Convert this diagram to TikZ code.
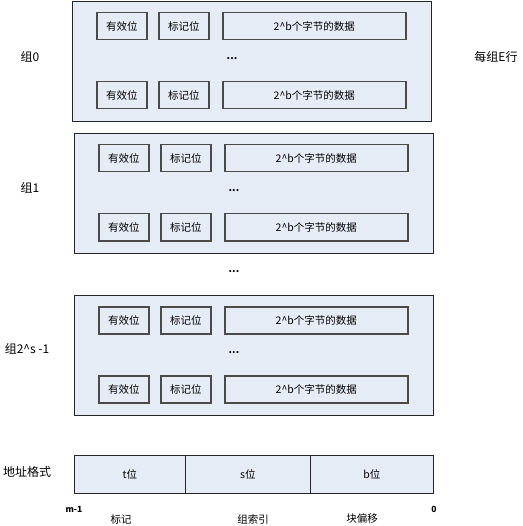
\documentclass[tikz,border=0pt]{standalone}
\usepackage{fontspec}
\setmainfont{Noto Sans CJK SC}
\usetikzlibrary{positioning}

\definecolor{cellfill}{HTML}{E6ECF5}
\definecolor{cellline}{HTML}{4A4A4A}

\tikzset{
  groupbox/.style={draw=black!85, line width=1.1pt, fill=cellfill,
    minimum width=359pt, minimum height=120pt, anchor=north west, inner sep=0pt},
  bitbox/.style={draw=cellline, line width=1.5pt, fill=cellfill,
    minimum width=50pt, minimum height=27pt, anchor=north west, inner sep=0pt},
  databox/.style={bitbox, minimum width=183pt},
  addrbox/.style={draw=black!85, line width=0.9pt, fill=cellfill,
    minimum height=38pt, anchor=north west, inner sep=0pt},
  moredots/.style={font=\bfseries\fontsize{10}{10}\selectfont},
  sidelab/.style={font=\fontsize{12}{14}\selectfont},
}

\begin{document}
\begin{tikzpicture}[x=1pt,y=-1pt,font=\fontsize{10.5}{12}\selectfont]

\useasboundingbox (0,0) rectangle (522,526);

% Groups
\foreach \g/\gx/\gy/\lx/\ly/\glab in {0/72/1/30/57/组0, 1/74/133/30/188/组1,
    2/74/295/27/349/{组2\textasciicircum s -1}} {
  \node[groupbox] (g\g) at (\gx,\gy) {};
  \node[sidelab] (g\g lab) at (\lx,\ly) {\glab};
  % two lines of the group
  \foreach \r/\dy in {a/11, b/80} {
    \node[bitbox] (g\g v\r) at (\gx+24,\gy+\dy) {有效位};
    \node[bitbox] (g\g t\r) at (\gx+86,\gy+\dy) {标记位};
    \node[databox] (g\g d\r) at (\gx+150,\gy+\dy) {2\textasciicircum b个字节的数据};
  }
  \node[moredots] (g\g dots) at (\gx+160,\gy+58) {...};
}

\node[sidelab] (lines) at (496,57) {每组E行};

% Groups left out
\node[moredots] (gdots) at (234,272) {...};

% Address format
\node[sidelab] (addrlab) at (27,472) {地址格式};
\node[addrbox, minimum width=111pt] (tbits) at (74,455) {t位};
\node[addrbox, minimum width=125pt] (sbits) at (185,455) {s位};
\node[addrbox, minimum width=123pt] (bbits) at (310,455) {b位};

\node[font=\fontsize{8.5}{9}\selectfont\bfseries] (msb) at (74,509) {m-1};
\node[font=\fontsize{8.5}{9}\selectfont\bfseries] (lsb) at (434,509) {0};
\node (tname) at (121,519) {标记};
\node (sname) at (253,519) {组索引};
\node (bname) at (362,519) {块偏移};

\end{tikzpicture}
\end{document}
